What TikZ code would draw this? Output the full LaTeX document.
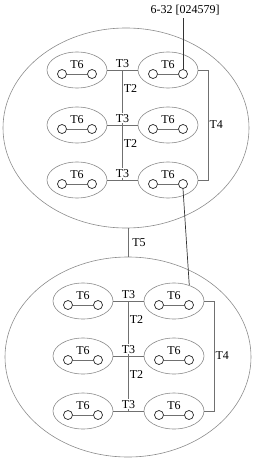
\documentclass[tikz,border=0pt]{standalone}
\usepackage{fontspec}
\setmainfont{Liberation Serif}
\usepackage{tikz}
\usetikzlibrary{
  positioning,
  shapes.geometric,
  calc
}
\definecolor{RingGray}{HTML}{8C8C8C}
\definecolor{WireGray}{HTML}{707070}
\tikzset{
  outerring/.style={
    ellipse,
    draw=RingGray,
    line width=0.6pt,
    minimum width=246pt,
    minimum height=200pt
  },
  cluster/.style={
    ellipse,
    draw=RingGray,
    line width=0.6pt,
    inner sep=0pt,
    minimum width=60pt,
    minimum height=36pt
  },
  site/.style={
    circle,
    draw=black!85,
    line width=0.7pt,
    fill=white,
    inner sep=0pt,
    minimum size=9pt
  },
  bond/.style={
    draw=WireGray,
    line width=0.7pt
  },
  wire/.style={
    draw=WireGray,
    line width=0.7pt
  },
  label/.style={
    font=\fontsize{12}{14}\selectfont,
    inner sep=1pt
  }
}

\begin{document}
\begin{tikzpicture}[x=1pt,y=-1pt]

  \useasboundingbox (0,0) rectangle (262,460);

  \node[outerring] (top) at (126,128) {};
  \node[outerring] (bottom) at (128,357) {};

  \foreach \g/\dx/\dy in {a/0/0, b/6/231} {
    \foreach \r in {1,2,3} {
      \foreach \c/\cx in {1/77, 2/168} {
        \node[cluster] (\g-\r-\c) at ({\cx+\dx},{15+55*\r+\dy}) {};
        \node[site] (\g-\r-\c-l) at ([shift={(-15,4)}]\g-\r-\c.center) {};
        \node[site] (\g-\r-\c-r) at ([shift={(15,4)}]\g-\r-\c.center) {};
        \draw[bond] (\g-\r-\c-l) -- (\g-\r-\c-r);
        \node[label] (\g-\r-\c-t) at ([shift={(0,-5)}]\g-\r-\c.center) {T6};
      }
      \coordinate (\g-\r-j) at ($(\g-\r-1.east)!0.5!(\g-\r-2.west)$);
      \draw[wire] (\g-\r-1.east) -- (\g-\r-2.west);
    }

    \draw[wire]
    (\g-1-j) --
    node[label, right, pos=0.33] {T2}
    (\g-2-j) --
    node[label, right, pos=0.33] {T2}
    (\g-3-j);

    \foreach \r in {1,2,3} {
      \node[label, fill=white, above=1.5pt of \g-\r-j] (\g-\r-t3) {T3};
    }

    \draw[wire]
    (\g-1-2.east) -- ++(10,0) |-
    node[label, right, pos=0.25] {T4}
    (\g-3-2.east);
  }

  \draw[wire]
  (bottom.north) --
  node[label, right, midway, inner sep=4pt] {T5}
  (bottom.north |- top.south);

  \node[label, inner sep=3pt] (code) at (185,10) {6-32 [024579]};

  \draw[bond, draw=black!80]
  (a-1-2-r.north) --
  (a-1-2-r.north |- code.south);

  \draw[bond, draw=black!80]
  (a-3-2-r.south) --
  (b-1-2.46);

\end{tikzpicture}
\end{document}
